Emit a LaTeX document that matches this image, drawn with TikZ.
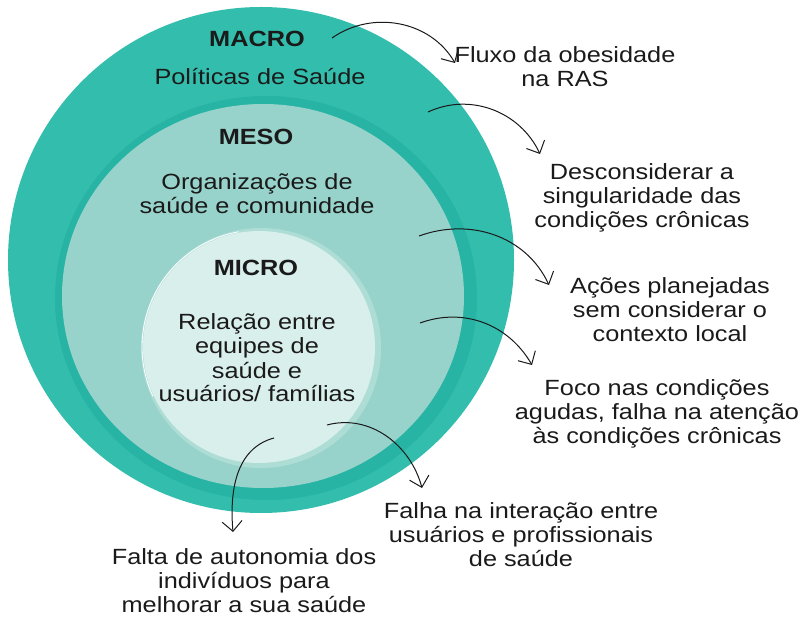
\documentclass[tikz,border=0pt]{standalone}
\usepackage{fontspec}
\setmainfont{Liberation Sans}[FakeStretch=1.15]
\usetikzlibrary{arrows.meta}

\definecolor{macroteal}{HTML}{33BDAD}
\definecolor{mesoring}{HTML}{27B4A4}
\definecolor{mesofill}{HTML}{97D3CB}
\definecolor{microring}{HTML}{AEDDD6}
\definecolor{microfill}{HTML}{D9EFEC}
\definecolor{ink}{HTML}{1A1A1A}

\begin{document}
\begin{tikzpicture}[x=1pt, y=1pt,
    title/.style={font=\fontsize{22}{24}\selectfont\bfseries, inner sep=0, anchor=base, text=ink},
    label/.style={font=\fontsize{22}{24}\selectfont, align=center, inner sep=0, anchor=base, text=ink},
    arrow/.style={-{Straight Barb[length=10pt,width=20pt]}, line width=1pt, draw=ink}
]
    \useasboundingbox (0,0) rectangle (803,-617);

    % levels
    \fill[macroteal] (261,-260) circle (253pt);
    \fill[mesoring] (266,-298) ellipse (211pt and 202pt);
    \fill[mesofill] (263,-296) ellipse (201pt and 192pt);
    \fill[microring] (261,-348) circle (120pt);
    \fill[microfill] (259,-347) circle (116pt);
    \draw[white, line width=0.8pt] (259,-347) ++(100:117) arc (100:205:117pt);

    % base = last line
    \node[title] (macro) at (257,-47) {MACRO};
    \node[label] (politicas) at (260,-85) {Políticas de Saúde};
    \node[title] (meso) at (256,-145) {MESO};
    \node[label] (org) at (257,-214) {Organizações de\\saúde e comunidade};
    \node[title] (micro) at (256,-276) {MICRO};
    \node[label] (relacao) at (257,-402) {Relação entre\\equipes de\\saúde e\\usuários/ famílias};

    % problems
    \node[label] (fluxo) at (565,-87) {Fluxo da obesidade\\na RAS};
    \node[label] (descons) at (642,-228) {Desconsiderar a\\singularidade das\\condições crônicas};
    \node[label] (acoes) at (670,-342) {Ações planejadas\\sem considerar o\\contexto local};
    \node[label] (foco) at (657,-443) {Foco nas condições\\agudas, falha na atenção\\às condições crônicas};
    \node[label] (falha) at (521,-566) {Falha na interação entre\\usuários e profissionais\\de saúde};
    \node[label] (falta) at (244,-612) {Falta de autonomia dos\\indivíduos para\\melhorar a sua saúde};

    \coordinate (s1) at (332,-38);
    \coordinate (s2) at (428,-112);
    \coordinate (s3) at (419,-236);
    \coordinate (s4) at (420,-323);
    \coordinate (s5) at (327,-425);
    \coordinate (s6) at (274,-438);

    \draw[arrow] (s1) to[out=35,in=120] ([shift={(-110,24)}]fluxo.base);
    \draw[arrow] (s2) to[out=25,in=115] ([shift={(-102,74)}]descons.base);
    \draw[arrow] (s3) to[out=20,in=115] ([shift={(-121,57)}]acoes.base);
    \draw[arrow] (s4) to[out=20,in=120] ([shift={(-125,78)}]foco.base);
    \draw[arrow] (s5) to[out=15,in=105] ([shift={(-99,78)}]falha.base);
    \draw[arrow] (s6) to[out=195,in=95] ([shift={(-11,80)}]falta.base);
\end{tikzpicture}
\end{document}
